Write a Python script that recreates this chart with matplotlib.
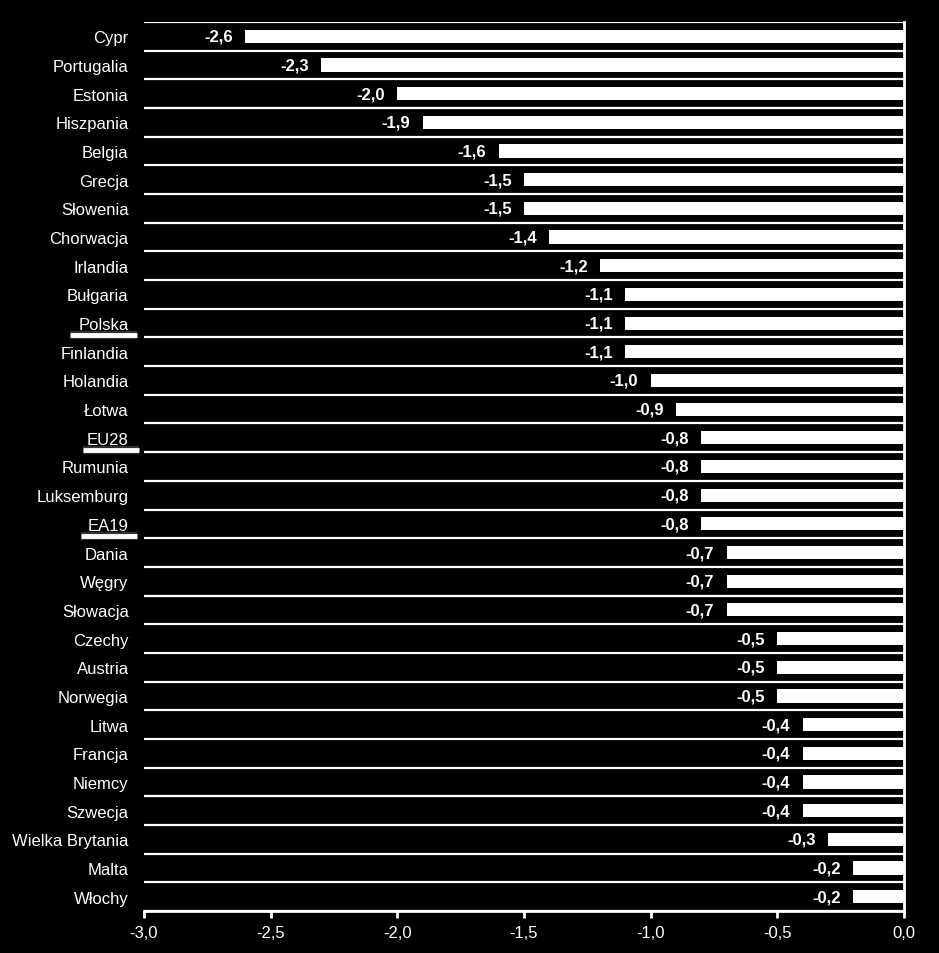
import matplotlib.pyplot as plt
from matplotlib.ticker import FuncFormatter

plt.rcParams['font.family'] = ['Liberation Sans', 'DejaVu Sans']

countries = ["Cypr", "Portugalia", "Estonia", "Hiszpania", "Belgia", "Grecja",
             "Słowenia", "Chorwacja", "Irlandia", "Bułgaria", "Polska", "Finlandia",
             "Holandia", "Łotwa", "EU28", "Rumunia", "Luksemburg", "EA19", "Dania",
             "Węgry", "Słowacja", "Czechy", "Austria", "Norwegia", "Litwa", "Francja",
             "Niemcy", "Szwecja", "Wielka Brytania", "Malta", "Włochy"]
values = [-2.6, -2.3, -2.0, -1.9, -1.6, -1.5, -1.5, -1.4, -1.2, -1.1, -1.1, -1.1,
          -1.0, -0.9, -0.8, -0.8, -0.8, -0.8, -0.7, -0.7, -0.7, -0.5, -0.5, -0.5,
          -0.4, -0.4, -0.4, -0.4, -0.3, -0.2, -0.2]
highlight = {"Polska": (-0.097, -0.009), "EU28": (-0.080, -0.007), "EA19": (-0.083, -0.009)}

fig = plt.figure(figsize=(9.39, 9.54), dpi=100, facecolor='black')
ax = fig.add_axes([144 / 939, 1 - 912 / 954, 760 / 939, (912 - 23) / 954])
ax.set_facecolor('black')

n = len(countries)
ypos = list(range(n))
ax.barh(ypos, values, height=0.46, color='white', zorder=3)

# row separators
for i in range(n + 1):
    ax.axhline(i - 0.5, color='white', lw=1.6, zorder=2)

for y, v in zip(ypos, values):
    ax.annotate(f"{v:.1f}".replace('.', ','), (v, y), xytext=(-9, 0),
                textcoords='offset points', ha='right', va='center',
                color='white', fontsize=12, fontweight='bold')

ax.set_xlim(-3.0, 0.0)
ax.set_ylim(n - 0.5, -0.5)
ax.set_xticks([-3.0, -2.5, -2.0, -1.5, -1.0, -0.5, 0.0])
ax.xaxis.set_major_formatter(FuncFormatter(lambda x, p: f"{x:.1f}".replace('.', ',')))
ax.set_yticks(ypos)
ax.set_yticklabels(countries)
ax.tick_params(axis='y', length=0, pad=11, colors='white', labelsize=12)
ax.tick_params(axis='x', length=5, width=2, colors='white', labelsize=12, pad=5)

for side in ['top', 'left']:
    ax.spines[side].set_visible(False)
for side in ['bottom', 'right']:
    ax.spines[side].set_color('white')
    ax.spines[side].set_linewidth(2)

# underline for highlighted labels
trans = ax.get_yaxis_transform()
for name, (x0, x1) in highlight.items():
    y = countries.index(name) + 0.42
    ax.plot([x0, x1], [y, y], color='#555555', lw=6, transform=trans,
            clip_on=False, solid_capstyle='butt', alpha=0.6)
    ax.plot([x0, x1], [y, y], color='white', lw=3.5, transform=trans,
            clip_on=False, solid_capstyle='butt')

fig.savefig('out.png', facecolor='black')
